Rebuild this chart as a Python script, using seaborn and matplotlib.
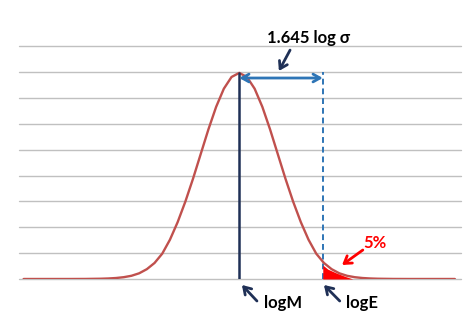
import matplotlib
matplotlib.use("Agg")
import matplotlib.pyplot as plt
import seaborn as sns
import pandas as pd

# ---- data (x in units of the curve's spread) ----
curve_x = [-5.6, -4.8, -4.4, -4.0, -3.6, -3.4, -3.2, -3.0, -2.8, -2.6, -2.4, -2.2, -2.0,
           -1.8, -1.6, -1.4, -1.2, -1.0, -0.8, -0.6, -0.4, -0.2, 0.0,
           0.2, 0.4, 0.6, 0.8, 1.0, 1.2, 1.4, 1.6, 1.8, 2.0, 2.2, 2.4, 2.6,
           2.8, 3.0, 3.2, 3.4, 3.6, 4.0, 4.4, 4.8, 5.6]
curve_y = [0.0, 0.0, 0.0, 0.0001, 0.0005, 0.0010, 0.0019, 0.0035, 0.0062, 0.0110, 0.0190,
           0.0310, 0.0490, 0.0760, 0.1100, 0.1497, 0.1942, 0.2420, 0.2897, 0.3332, 0.3683,
           0.3910, 0.3989, 0.3910, 0.3683, 0.3332, 0.2897, 0.2420, 0.1942, 0.1497, 0.1100,
           0.0760, 0.0490, 0.0310, 0.0190, 0.0110, 0.0062, 0.0035, 0.0019, 0.0010, 0.0005,
           0.0001, 0.0, 0.0, 0.0]
tail_x = [2.17, 2.30, 2.54, 2.75, 2.95]
tail_y = [0.027, 0.019, 0.011, 0.005, 0.0]
mean_x = 0.0
limit_x = 2.17
peak_y = 0.399
grid_ticks = [0.0, 0.05, 0.10, 0.15, 0.20, 0.25, 0.30, 0.35, 0.40, 0.45]
label_span = "1.645 log σ"
label_mean = "logM"
label_limit = "logE"
label_pct = "5%"

sns.set_style("white")
plt.rcParams["font.family"] = ["Lato", "DejaVu Sans"]

fig = plt.figure(figsize=(4.74, 3.34), dpi=100)
ax = fig.add_axes([0.0401, 0.1647, 0.9325, 0.6961])

for t in grid_ticks:
    ax.axhline(t, color="#C0C0C0", lw=1.0, zorder=0, clip_on=False)

df = pd.DataFrame({"x": curve_x, "y": curve_y})
sns.lineplot(data=df, x="x", y="y", ax=ax, color="#C0504D", lw=1.7, zorder=3, sort=False)

ax.fill_between(tail_x, 0, tail_y, color="#FF0000", lw=0, zorder=4)

navy = "#1F3056"
blue = "#2E75B6"
ax.plot([mean_x, mean_x], [0, peak_y], color=navy, lw=1.8, zorder=5)
ax.plot([limit_x, limit_x], [0, 0.4], color=blue, lw=1.4, ls=(0, (3, 2)), zorder=2)

ax.annotate("", xy=(mean_x, 0.389), xytext=(limit_x, 0.389),
            arrowprops=dict(arrowstyle="<->,head_length=0.5,head_width=0.28",
                            color=blue, lw=2.0, shrinkA=0, shrinkB=0),
            annotation_clip=False, zorder=6)

ax.set_xlim(-5.72, 5.76)
ax.set_ylim(0, 0.45)
ax.set_xticks([])
ax.set_yticks([])
ax.set_xlabel("")
ax.set_ylabel("")
for s in ax.spines.values():
    s.set_visible(False)

fs = 12
arrow_kw = dict(arrowstyle="->,head_length=0.5,head_width=0.32", color=navy, lw=2.0,
                shrinkA=0, shrinkB=0)
ax.text(1.80, 0.4665, label_span, ha="center", va="center", fontsize=fs,
        fontweight="bold", color="black", clip_on=False)
ax.annotate("", xy=(1.03, 0.4026), xytext=(1.32, 0.443), arrowprops=arrow_kw,
            annotation_clip=False)

ax.annotate("", xy=(0.07, -0.0116), xytext=(0.46, -0.0426), arrowprops=arrow_kw,
            annotation_clip=False)
ax.text(0.645, -0.0465, label_mean, ha="left", va="center", fontsize=fs,
        fontweight="bold", color="black", clip_on=False)

ax.annotate("", xy=(2.20, -0.0116), xytext=(2.61, -0.0426), arrowprops=arrow_kw,
            annotation_clip=False)
ax.text(2.77, -0.0465, label_limit, ha="left", va="center", fontsize=fs,
        fontweight="bold", color="black", clip_on=False)

ax.text(3.21, 0.0697, label_pct, ha="left", va="center", fontsize=fs,
        fontweight="bold", color="#FF0000", clip_on=False)
ax.annotate("", xy=(2.67, 0.0271), xytext=(3.21, 0.0561),
            arrowprops=dict(arrowstyle="->,head_length=0.5,head_width=0.32", color="#FF0000",
                            lw=2.0, shrinkA=0, shrinkB=0),
            annotation_clip=False)

fig.savefig("out.png", dpi=100)
